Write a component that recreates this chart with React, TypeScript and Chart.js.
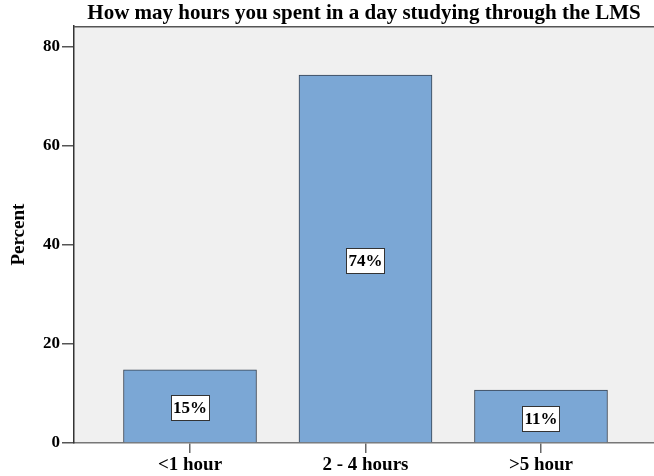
import React, { useEffect, useRef } from "react";
import { Chart, registerables } from "chart.js";

Chart.register(...registerables);

const titleText = "How may hours you spent in a day studying through the LMS";
const yAxisTitle = "Percent";
const categories = ["<1 hour", "2 - 4 hours", ">5 hour"];
const percentValues = [14.8, 74.3, 10.7];
const percentLabels = ["15%", "74%", "11%"];
const yTickValues = [0, 20, 40, 60, 80];

const FONT = '"Liberation Serif", "Times New Roman", serif';

export default function App() {
  const ref = useRef<HTMLCanvasElement | null>(null);

  useEffect(() => {
    if (!ref.current) return;
    const bgPlugin = {
      id: "bgPlugin",
      beforeDraw(chart: any) {
        const { ctx, chartArea } = chart;
        ctx.save();
        ctx.fillStyle = "#F0F0F0";
        ctx.fillRect(chartArea.left, chartArea.top, chartArea.right - chartArea.left, chartArea.bottom - chartArea.top);
        ctx.restore();
      },
      afterDraw(chart: any) {
        const { ctx, chartArea } = chart;
        ctx.save();
        ctx.strokeStyle = "#555555";
        ctx.lineWidth = 1.5;
        ctx.beginPath();
        ctx.moveTo(chartArea.left, chartArea.top + 0.5);
        ctx.lineTo(chartArea.right, chartArea.top + 0.5);
        ctx.stroke();
        ctx.restore();
      },
    };
    const labelPlugin = {
      id: "labelPlugin",
      afterDatasetsDraw(chart: any) {
        const { ctx } = chart;
        const meta = chart.getDatasetMeta(0);
        ctx.save();
        ctx.font = `bold 17px ${FONT}`;
        ctx.textAlign = "center";
        ctx.textBaseline = "middle";
        meta.data.forEach((el: any, i: number) => {
          const text = percentLabels[i];
          const cx = el.x;
          const cy = (el.y + el.base) / 2;
          const w = Math.round(ctx.measureText(text).width + 4);
          const h = 25;
          const lx = Math.round(cx - w / 2);
          const ty = Math.round(cy - h / 2) + 2;
          ctx.fillStyle = "#FFFFFF";
          ctx.fillRect(lx, ty, w, h);
          ctx.strokeStyle = "#333333";
          ctx.lineWidth = 1;
          ctx.strokeRect(lx + 0.5, ty + 0.5, w, h);
          ctx.fillStyle = "#000000";
          ctx.fillText(text, cx, ty + h / 2 + 1.5);
        });
        ctx.restore();
      },
    };

    const chart = new Chart(ref.current, {
      type: "bar",
      data: {
        datasets: [
          {
            data: percentValues.map((v, i) => ({ x: i, y: v })),
            backgroundColor: "#7BA7D5",
            borderColor: "#36414F",
            borderWidth: 1,
            barThickness: 133,
          },
        ],
      },
      options: {
        responsive: false,
        animation: false,
        layout: { padding: { left: 0, right: 0, top: 0, bottom: 0 } },
        plugins: {
          legend: { display: false },
          tooltip: { enabled: false },
          title: {
            display: true,
            text: titleText,
            fullSize: false,
            color: "#000000",
            font: { family: FONT, size: 21, weight: "bold", lineHeight: 1.15 },
            padding: { top: 2, bottom: 0 },
          },
        },
        scales: {
          x: {
            type: "linear",
            offset: false,
            min: -0.661,
            max: 2.644,
            afterBuildTicks(scale: any) {
              scale.ticks = categories.map((_, i) => ({ value: i }));
            },
            afterFit(scale: any) {
              scale.height = 33;
            },
            grid: { offset: false, drawOnChartArea: false, drawTicks: true, tickLength: 10, color: "#666666", lineWidth: 1.5 },
            border: { display: true, color: "#777777", width: 1.5 },
            ticks: {
              autoSkip: false,
              maxRotation: 0,
              padding: 1,
              color: "#000000",
              font: { family: FONT, size: 19, weight: "bold" },
              callback: (v: any) => categories[v as number],
            },
          },
          y: {
            min: 0,
            max: 84.2,
            afterBuildTicks(scale: any) {
              scale.ticks = yTickValues.map((v) => ({ value: v }));
            },
            afterFit(scale: any) {
              scale.width = 74;
            },
            grid: { drawOnChartArea: false, drawTicks: true, tickLength: 12, color: "#555555", lineWidth: 1.5 },
            border: { display: true, color: "#333333", width: 1.5 },
            title: {
              display: true,
              text: yAxisTitle,
              color: "#000000",
              font: { family: FONT, size: 19, weight: "bold" },
              padding: { top: 8, bottom: 0 },
            },
            ticks: {
              padding: 2,
              color: "#000000",
              font: { family: FONT, size: 17, weight: "bold" },
            },
          },
        },
      },
      plugins: [bgPlugin, labelPlugin],
    } as any);
    return () => chart.destroy();
  }, []);

  return (
    <div style={{ position: "absolute", left: 0, top: 0, width: 654, height: 476, background: "#FFFFFF" }}>
      <canvas ref={ref} width={654} height={476} style={{ display: "block" }} />
    </div>
  );
}
